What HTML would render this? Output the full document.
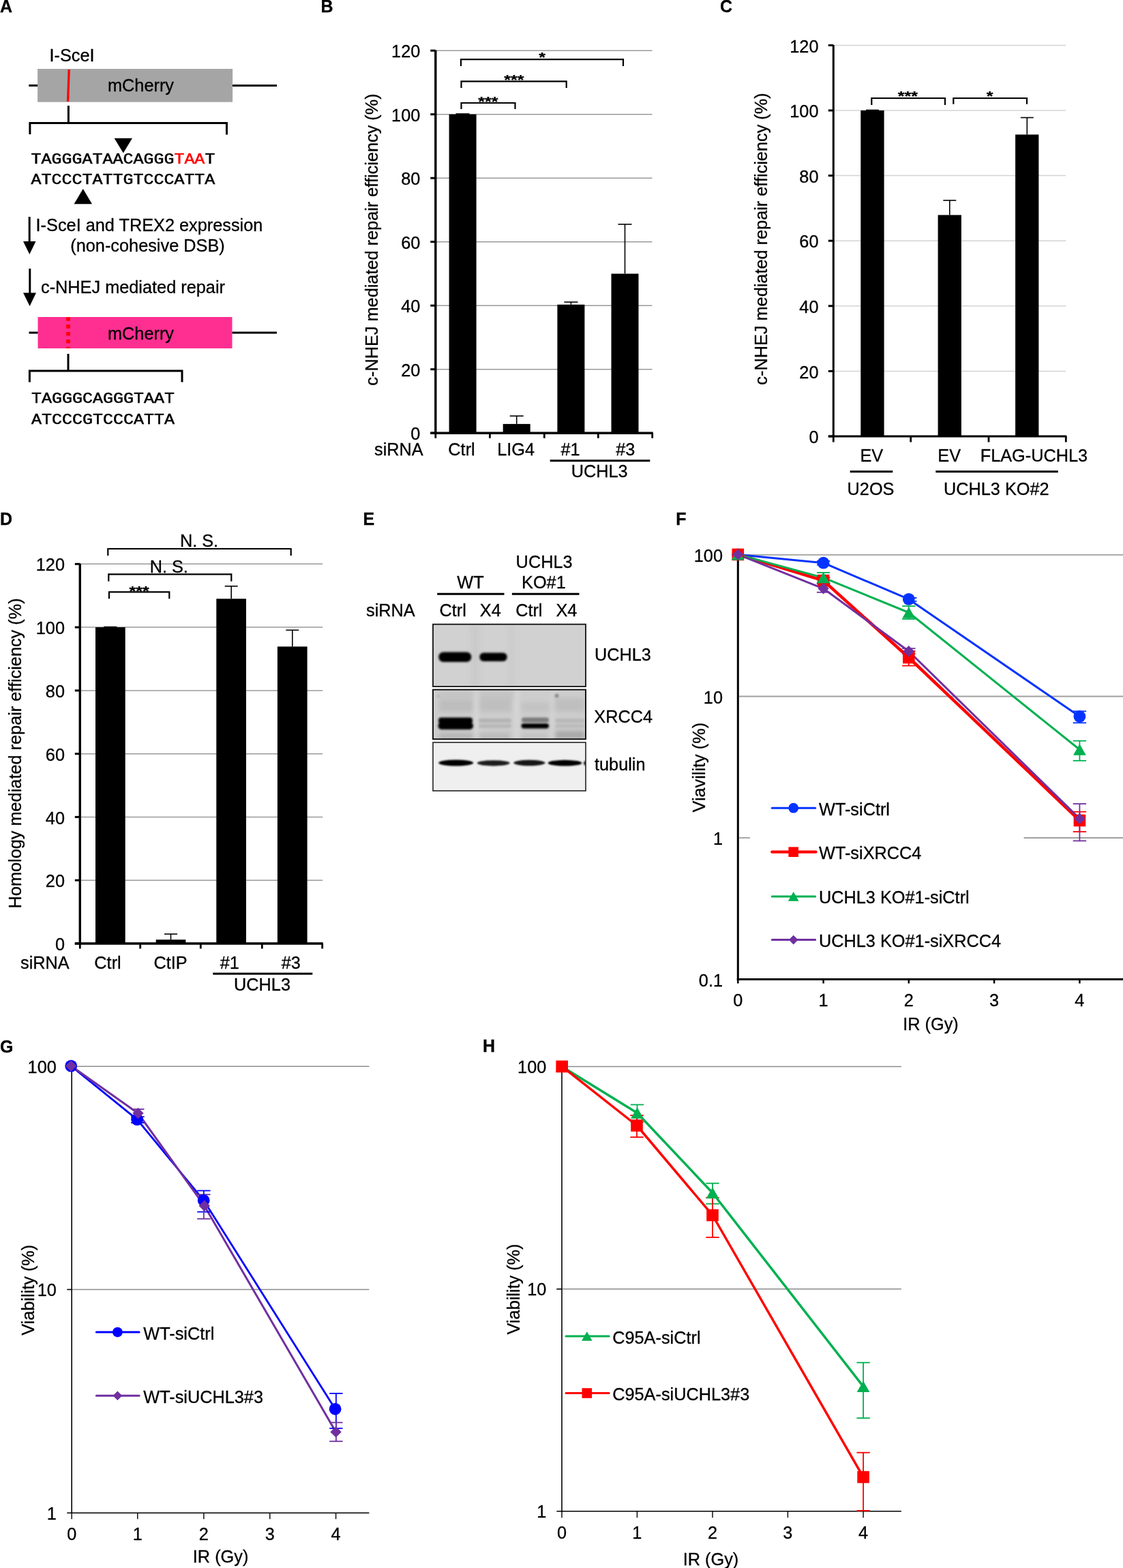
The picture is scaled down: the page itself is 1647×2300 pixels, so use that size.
<!DOCTYPE html>
<html><head><meta charset="utf-8"><title>Figure</title>
<style>html,body{margin:0;padding:0;background:#fff;}svg{display:block;}text:not(.m){stroke:#000;stroke-width:0.3px;}</style></head>
<body>
<svg width="1647" height="2300" viewBox="0 0 1647 2300" font-family="'Liberation Sans', Arial, sans-serif" font-size="25.3">
<rect width="1647" height="2300" fill="#fff"/>
<text x="0.0" y="18.2" font-weight="bold" font-size="25">A</text>
<text x="470.6" y="18.3" font-weight="bold" font-size="25">B</text>
<text x="1056.0" y="18.3" font-weight="bold" font-size="25">C</text>
<text x="0.0" y="770.0" font-weight="bold" font-size="25">D</text>
<text x="532.4" y="770.3" font-weight="bold" font-size="25">E</text>
<text x="991.3" y="770.0" font-weight="bold" font-size="25">F</text>
<text x="0.0" y="1543.8" font-weight="bold" font-size="25">G</text>
<text x="708.1" y="1543.3" font-weight="bold" font-size="25">H</text>
<rect x="55.1" y="101.0" width="286.0" height="48.7" fill="#a5a5a5"/>
<line x1="42.3" y1="125.4" x2="55.1" y2="125.4" stroke="#000" stroke-width="3"/>
<line x1="341.0" y1="125.4" x2="406.0" y2="125.4" stroke="#000" stroke-width="3"/>
<line x1="101.2" y1="102.0" x2="99.6" y2="149.0" stroke="#ff0000" stroke-width="3.3"/>
<text x="72.5" y="90.0">I-SceI</text>
<text x="206.5" y="134.4" text-anchor="middle">mCherry</text>
<line x1="100.4" y1="155.0" x2="100.4" y2="180.4" stroke="#000" stroke-width="3"/>
<path d="M43.9,197 V180.4 H332.5 V197.5" stroke="#000" stroke-width="3" fill="none"/>
<polygon points="167.6,202.8 194.0,202.8 180.8,224.4" fill="#000"/>
<text class="m" transform="translate(45.5,239.8) scale(1,0.9)" font-family="'Liberation Mono', 'Courier New', monospace" font-size="25" stroke="currentColor" stroke-width="0.6">TAGGGATAACAGGG<tspan fill="#ff0000" stroke="#ff0000">TAA</tspan>T</text>
<text class="m" transform="translate(45.5,269.8) scale(1,0.9)" font-family="'Liberation Mono', 'Courier New', monospace" font-size="25" stroke="currentColor" stroke-width="0.6">ATCCCTATTGTCCCATTA</text>
<polygon points="108.6,299.2 135.0,299.2 121.8,277.0" fill="#000"/>
<line x1="43.2" y1="318.0" x2="43.2" y2="357.0" stroke="#000" stroke-width="3"/>
<polygon points="34.0,354.0 52.5,354.0 43.3,373.0" fill="#000"/>
<text x="52.6" y="339.0">I-SceI and TREX2 expression</text>
<text x="216.5" y="368.8" text-anchor="middle">(non-cohesive DSB)</text>
<line x1="43.8" y1="394.0" x2="43.8" y2="432.0" stroke="#000" stroke-width="3"/>
<polygon points="34.0,429.5 53.0,429.5 43.6,449.0" fill="#000"/>
<text x="60.0" y="430.0">c-NHEJ mediated repair</text>
<rect x="55.5" y="465.0" width="285.0" height="46.0" fill="#ff2f92"/>
<line x1="42.5" y1="488.0" x2="55.5" y2="488.0" stroke="#000" stroke-width="3"/>
<line x1="340.5" y1="488.0" x2="406.0" y2="488.0" stroke="#000" stroke-width="3"/>
<line x1="100.0" y1="465.2" x2="100.0" y2="511.0" stroke="#ff0000" stroke-width="5.7" stroke-dasharray="5.6 5.3"/>
<text x="206.5" y="497.5" text-anchor="middle">mCherry</text>
<line x1="100.0" y1="519.0" x2="100.0" y2="544.0" stroke="#000" stroke-width="3"/>
<path d="M43.4,560.5 V544 H267 V560.5" stroke="#000" stroke-width="3" fill="none"/>
<text class="m" transform="translate(46,591) scale(1,0.9)" font-family="'Liberation Mono', 'Courier New', monospace" font-size="25" stroke="currentColor" stroke-width="0.6">TAGGGCAGGGTAAT</text>
<text class="m" transform="translate(46,622) scale(1,0.9)" font-family="'Liberation Mono', 'Courier New', monospace" font-size="25" stroke="currentColor" stroke-width="0.6">ATCCCGTCCCATTA</text>
<line x1="638.8" y1="541.7" x2="956.5" y2="541.7" stroke="#9a9a9a" stroke-width="1.5"/>
<line x1="638.8" y1="448.2" x2="956.5" y2="448.2" stroke="#9a9a9a" stroke-width="1.5"/>
<line x1="638.8" y1="354.7" x2="956.5" y2="354.7" stroke="#9a9a9a" stroke-width="1.5"/>
<line x1="638.8" y1="261.2" x2="956.5" y2="261.2" stroke="#9a9a9a" stroke-width="1.5"/>
<line x1="638.8" y1="167.7" x2="956.5" y2="167.7" stroke="#9a9a9a" stroke-width="1.5"/>
<line x1="638.8" y1="74.2" x2="956.5" y2="74.2" stroke="#9a9a9a" stroke-width="1.5"/>
<line x1="638.8" y1="73.7" x2="638.8" y2="636.7" stroke="#000" stroke-width="3.4"/>
<line x1="631.3" y1="635.2" x2="638.8" y2="635.2" stroke="#000" stroke-width="3"/>
<text x="616.3" y="645.3" text-anchor="end">0</text>
<line x1="631.3" y1="541.7" x2="638.8" y2="541.7" stroke="#000" stroke-width="3"/>
<text x="616.3" y="551.8" text-anchor="end">20</text>
<line x1="631.3" y1="448.2" x2="638.8" y2="448.2" stroke="#000" stroke-width="3"/>
<text x="616.3" y="458.3" text-anchor="end">40</text>
<line x1="631.3" y1="354.7" x2="638.8" y2="354.7" stroke="#000" stroke-width="3"/>
<text x="616.3" y="364.8" text-anchor="end">60</text>
<line x1="631.3" y1="261.2" x2="638.8" y2="261.2" stroke="#000" stroke-width="3"/>
<text x="616.3" y="271.3" text-anchor="end">80</text>
<line x1="631.3" y1="167.7" x2="638.8" y2="167.7" stroke="#000" stroke-width="3"/>
<text x="616.3" y="177.8" text-anchor="end">100</text>
<line x1="631.3" y1="74.2" x2="638.8" y2="74.2" stroke="#000" stroke-width="3"/>
<text x="616.3" y="84.3" text-anchor="end">120</text>
<rect x="658.6" y="167.7" width="40.0" height="467.5" fill="#000"/>
<line x1="678.6" y1="167.7" x2="678.6" y2="167.0" stroke="#000" stroke-width="1.6"/>
<line x1="668.6" y1="167.0" x2="688.6" y2="167.0" stroke="#000" stroke-width="1.6"/>
<rect x="737.7" y="621.9" width="40.0" height="13.3" fill="#000"/>
<line x1="757.7" y1="621.9" x2="757.7" y2="610.2" stroke="#000" stroke-width="1.6"/>
<line x1="747.7" y1="610.2" x2="767.7" y2="610.2" stroke="#000" stroke-width="1.6"/>
<rect x="817.4" y="446.8" width="40.0" height="188.4" fill="#000"/>
<line x1="837.4" y1="446.8" x2="837.4" y2="443.1" stroke="#000" stroke-width="1.6"/>
<line x1="827.4" y1="443.1" x2="847.4" y2="443.1" stroke="#000" stroke-width="1.6"/>
<rect x="896.5" y="401.5" width="40.0" height="233.8" fill="#000"/>
<line x1="916.5" y1="401.5" x2="916.5" y2="329.0" stroke="#000" stroke-width="1.6"/>
<line x1="906.5" y1="329.0" x2="926.5" y2="329.0" stroke="#000" stroke-width="1.6"/>
<line x1="631.3" y1="635.2" x2="957.7" y2="635.2" stroke="#000" stroke-width="3.4"/>
<line x1="638.8" y1="635.2" x2="638.8" y2="642.7" stroke="#000" stroke-width="2.8"/>
<line x1="718.4" y1="635.2" x2="718.4" y2="642.7" stroke="#000" stroke-width="2.8"/>
<line x1="798.3" y1="635.2" x2="798.3" y2="642.7" stroke="#000" stroke-width="2.8"/>
<line x1="877.3" y1="635.2" x2="877.3" y2="642.7" stroke="#000" stroke-width="2.8"/>
<line x1="956.7" y1="635.2" x2="956.7" y2="642.7" stroke="#000" stroke-width="2.8"/>
<path d="M676.5,160 V151 H755.5 V160" stroke="#000" stroke-width="2.2" fill="none"/>
<path d="M676.5,129 V119.3 H830.7 V129" stroke="#000" stroke-width="2.2" fill="none"/>
<path d="M676,97 V87.2 H914 V97" stroke="#000" stroke-width="2.2" fill="none"/>
<text transform="translate(715.9,155.9) scale(1,0.8)" text-anchor="middle" font-weight="bold" font-size="25">***</text>
<text transform="translate(753.9,123.5) scale(1,0.8)" text-anchor="middle" font-weight="bold" font-size="25">***</text>
<text transform="translate(795.0,91.4) scale(1,0.8)" text-anchor="middle" font-weight="bold" font-size="25">*</text>
<text x="549.0" y="667.7">siRNA</text>
<text x="677.0" y="667.7" text-anchor="middle">Ctrl</text>
<text x="756.7" y="667.7" text-anchor="middle">LIG4</text>
<text x="836.5" y="667.7" text-anchor="middle">#1</text>
<text x="917.3" y="667.7" text-anchor="middle">#3</text>
<line x1="806.7" y1="675.7" x2="953.3" y2="675.7" stroke="#000" stroke-width="3"/>
<text x="879.2" y="700.0" text-anchor="middle">UCHL3</text>
<text transform="translate(553.5,351.5) rotate(-90)" text-anchor="middle">c-NHEJ mediated repair efficiency (%)</text>
<line x1="1222.3" y1="544.4" x2="1563.3" y2="544.4" stroke="#d4d4d4" stroke-width="1.5"/>
<line x1="1222.3" y1="448.8" x2="1563.3" y2="448.8" stroke="#d4d4d4" stroke-width="1.5"/>
<line x1="1222.3" y1="353.2" x2="1563.3" y2="353.2" stroke="#d4d4d4" stroke-width="1.5"/>
<line x1="1222.3" y1="257.6" x2="1563.3" y2="257.6" stroke="#d4d4d4" stroke-width="1.5"/>
<line x1="1222.3" y1="162.0" x2="1563.3" y2="162.0" stroke="#d4d4d4" stroke-width="1.5"/>
<line x1="1222.3" y1="66.4" x2="1563.3" y2="66.4" stroke="#d4d4d4" stroke-width="1.5"/>
<line x1="1222.3" y1="65.9" x2="1222.3" y2="641.5" stroke="#000" stroke-width="3"/>
<line x1="1214.8" y1="640.0" x2="1222.3" y2="640.0" stroke="#000" stroke-width="3"/>
<text x="1200.5" y="650.1" text-anchor="end">0</text>
<line x1="1214.8" y1="544.4" x2="1222.3" y2="544.4" stroke="#000" stroke-width="3"/>
<text x="1200.5" y="554.5" text-anchor="end">20</text>
<line x1="1214.8" y1="448.8" x2="1222.3" y2="448.8" stroke="#000" stroke-width="3"/>
<text x="1200.5" y="458.9" text-anchor="end">40</text>
<line x1="1214.8" y1="353.2" x2="1222.3" y2="353.2" stroke="#000" stroke-width="3"/>
<text x="1200.5" y="363.3" text-anchor="end">60</text>
<line x1="1214.8" y1="257.6" x2="1222.3" y2="257.6" stroke="#000" stroke-width="3"/>
<text x="1200.5" y="267.7" text-anchor="end">80</text>
<line x1="1214.8" y1="162.0" x2="1222.3" y2="162.0" stroke="#000" stroke-width="3"/>
<text x="1200.5" y="172.1" text-anchor="end">100</text>
<line x1="1214.8" y1="66.4" x2="1222.3" y2="66.4" stroke="#000" stroke-width="3"/>
<text x="1200.5" y="76.5" text-anchor="end">120</text>
<rect x="1262.3" y="162.0" width="34.3" height="478.0" fill="#000"/>
<line x1="1279.5" y1="162.0" x2="1279.5" y2="161.5" stroke="#000" stroke-width="1.6"/>
<line x1="1270.0" y1="161.5" x2="1289.0" y2="161.5" stroke="#000" stroke-width="1.6"/>
<rect x="1375.6" y="315.4" width="34.3" height="324.6" fill="#000"/>
<line x1="1392.8" y1="315.4" x2="1392.8" y2="293.9" stroke="#000" stroke-width="1.6"/>
<line x1="1383.3" y1="293.9" x2="1402.3" y2="293.9" stroke="#000" stroke-width="1.6"/>
<rect x="1489.1" y="197.4" width="34.3" height="442.6" fill="#000"/>
<line x1="1506.3" y1="197.4" x2="1506.3" y2="172.5" stroke="#000" stroke-width="1.6"/>
<line x1="1496.8" y1="172.5" x2="1515.8" y2="172.5" stroke="#000" stroke-width="1.6"/>
<line x1="1214.8" y1="640.0" x2="1564.3" y2="640.0" stroke="#000" stroke-width="3"/>
<line x1="1222.3" y1="640.0" x2="1222.3" y2="648.5" stroke="#000" stroke-width="2.8"/>
<line x1="1335.7" y1="640.0" x2="1335.7" y2="648.5" stroke="#000" stroke-width="2.8"/>
<line x1="1450.0" y1="640.0" x2="1450.0" y2="648.5" stroke="#000" stroke-width="2.8"/>
<line x1="1563.3" y1="640.0" x2="1563.3" y2="648.5" stroke="#000" stroke-width="2.8"/>
<path d="M1278.3,154 V144 H1386 V154" stroke="#000" stroke-width="2.2" fill="none"/>
<path d="M1398.3,152.7 V144 H1506 V152.7" stroke="#000" stroke-width="2.2" fill="none"/>
<text transform="translate(1331.3,147.5) scale(1,0.8)" text-anchor="middle" font-weight="bold" font-size="25">***</text>
<text transform="translate(1451.5,147.6) scale(1,0.8)" text-anchor="middle" font-weight="bold" font-size="25">*</text>
<text x="1278.3" y="676.7" text-anchor="middle">EV</text>
<text x="1392.2" y="676.7" text-anchor="middle">EV</text>
<text x="1437.7" y="676.7">FLAG-UCHL3</text>
<line x1="1246.7" y1="691.7" x2="1309.3" y2="691.7" stroke="#000" stroke-width="3"/>
<line x1="1372.3" y1="691.7" x2="1551.7" y2="691.7" stroke="#000" stroke-width="3"/>
<text x="1277.0" y="725.7" text-anchor="middle">U2OS</text>
<text x="1461.3" y="725.7" text-anchor="middle">UCHL3 KO#2</text>
<text transform="translate(1125.1,350.5) rotate(-90)" text-anchor="middle">c-NHEJ mediated repair efficiency (%)</text>
<line x1="117.3" y1="1291.2" x2="473.3" y2="1291.2" stroke="#9a9a9a" stroke-width="1.5"/>
<line x1="117.3" y1="1198.4" x2="473.3" y2="1198.4" stroke="#9a9a9a" stroke-width="1.5"/>
<line x1="117.3" y1="1105.7" x2="473.3" y2="1105.7" stroke="#9a9a9a" stroke-width="1.5"/>
<line x1="117.3" y1="1012.9" x2="473.3" y2="1012.9" stroke="#9a9a9a" stroke-width="1.5"/>
<line x1="117.3" y1="920.1" x2="473.3" y2="920.1" stroke="#9a9a9a" stroke-width="1.5"/>
<line x1="117.3" y1="827.3" x2="473.3" y2="827.3" stroke="#9a9a9a" stroke-width="1.5"/>
<line x1="117.3" y1="826.8" x2="117.3" y2="1385.5" stroke="#000" stroke-width="3.4"/>
<line x1="109.8" y1="1384.0" x2="117.3" y2="1384.0" stroke="#000" stroke-width="3"/>
<text x="95.0" y="1394.1" text-anchor="end">0</text>
<line x1="109.8" y1="1291.2" x2="117.3" y2="1291.2" stroke="#000" stroke-width="3"/>
<text x="95.0" y="1301.3" text-anchor="end">20</text>
<line x1="109.8" y1="1198.4" x2="117.3" y2="1198.4" stroke="#000" stroke-width="3"/>
<text x="95.0" y="1208.5" text-anchor="end">40</text>
<line x1="109.8" y1="1105.7" x2="117.3" y2="1105.7" stroke="#000" stroke-width="3"/>
<text x="95.0" y="1115.8" text-anchor="end">60</text>
<line x1="109.8" y1="1012.9" x2="117.3" y2="1012.9" stroke="#000" stroke-width="3"/>
<text x="95.0" y="1023.0" text-anchor="end">80</text>
<line x1="109.8" y1="920.1" x2="117.3" y2="920.1" stroke="#000" stroke-width="3"/>
<text x="95.0" y="930.2" text-anchor="end">100</text>
<line x1="109.8" y1="827.3" x2="117.3" y2="827.3" stroke="#000" stroke-width="3"/>
<text x="95.0" y="837.4" text-anchor="end">120</text>
<rect x="140.0" y="920.1" width="43.7" height="463.9" fill="#000"/>
<line x1="161.8" y1="920.1" x2="161.8" y2="919.6" stroke="#000" stroke-width="1.6"/>
<line x1="152.3" y1="919.6" x2="171.3" y2="919.6" stroke="#000" stroke-width="1.6"/>
<rect x="228.7" y="1378.3" width="43.7" height="5.7" fill="#000"/>
<line x1="250.5" y1="1378.3" x2="250.5" y2="1370.1" stroke="#000" stroke-width="1.6"/>
<line x1="241.0" y1="1370.1" x2="260.0" y2="1370.1" stroke="#000" stroke-width="1.6"/>
<rect x="317.3" y="878.3" width="43.7" height="505.7" fill="#000"/>
<line x1="339.2" y1="878.3" x2="339.2" y2="859.8" stroke="#000" stroke-width="1.6"/>
<line x1="329.7" y1="859.8" x2="348.7" y2="859.8" stroke="#000" stroke-width="1.6"/>
<rect x="406.9" y="948.4" width="43.7" height="435.6" fill="#000"/>
<line x1="428.8" y1="948.4" x2="428.8" y2="924.3" stroke="#000" stroke-width="1.6"/>
<line x1="419.3" y1="924.3" x2="438.3" y2="924.3" stroke="#000" stroke-width="1.6"/>
<line x1="109.8" y1="1384.0" x2="473.7" y2="1384.0" stroke="#000" stroke-width="3.4"/>
<line x1="117.3" y1="1384.0" x2="117.3" y2="1391.5" stroke="#000" stroke-width="2.8"/>
<line x1="205.7" y1="1384.0" x2="205.7" y2="1391.5" stroke="#000" stroke-width="2.8"/>
<line x1="294.3" y1="1384.0" x2="294.3" y2="1391.5" stroke="#000" stroke-width="2.8"/>
<line x1="384.3" y1="1384.0" x2="384.3" y2="1391.5" stroke="#000" stroke-width="2.8"/>
<line x1="472.7" y1="1384.0" x2="472.7" y2="1391.5" stroke="#000" stroke-width="2.8"/>
<path d="M160,878.3 V868.3 H248.3 V878.3" stroke="#000" stroke-width="2.2" fill="none"/>
<path d="M159.3,852.7 V842.3 H339.3 V852.7" stroke="#000" stroke-width="2.2" fill="none"/>
<path d="M158.3,815 V805 H426.7 V815" stroke="#000" stroke-width="2.2" fill="none"/>
<text transform="translate(204.2,873.7) scale(1,0.8)" text-anchor="middle" font-weight="bold" font-size="25">***</text>
<text x="292.0" y="802.3" text-anchor="middle">N. S.</text>
<text x="247.8" y="840.0" text-anchor="middle">N. S.</text>
<text x="30.0" y="1421.0">siRNA</text>
<text x="158.0" y="1421.0" text-anchor="middle">Ctrl</text>
<text x="250.0" y="1421.0" text-anchor="middle">CtIP</text>
<text x="336.7" y="1421.0" text-anchor="middle">#1</text>
<text x="426.7" y="1421.0" text-anchor="middle">#3</text>
<line x1="312.3" y1="1428.3" x2="458.3" y2="1428.3" stroke="#000" stroke-width="3"/>
<text x="384.5" y="1453.3" text-anchor="middle">UCHL3</text>
<text transform="translate(30.9,1104.9) rotate(-90)" text-anchor="middle">Homology mediated repair efficiency (%)</text>
<defs><filter id="bl" x="-30%" y="-80%" width="160%" height="260%"><feGaussianBlur stdDeviation="1.5"/></filter><filter id="bl2" x="-30%" y="-80%" width="160%" height="260%"><feGaussianBlur stdDeviation="3"/></filter><filter id="bl3" x="-30%" y="-80%" width="160%" height="260%"><feGaussianBlur stdDeviation="1.1"/></filter><clipPath id="cb1"><rect x="635" y="915.7" width="224" height="91.3"/></clipPath><clipPath id="cb2"><rect x="635" y="1011.6" width="224" height="72.6"/></clipPath><clipPath id="cb3"><rect x="635" y="1089" width="224" height="71"/></clipPath></defs>
<rect x="635.0" y="915.7" width="224.0" height="91.3" fill="#d1d1d1"/>
<g clip-path="url(#cb1)"><g filter="url(#bl2)" opacity="0.5"><rect x="690" y="915" width="14" height="92" fill="#c4c4c4"/><rect x="745" y="915" width="10" height="92" fill="#c8c8c8"/></g></g>
<g filter="url(#bl)"><rect x="643.3" y="956.5" width="48" height="14.5" rx="7" fill="#000"/><rect x="703.3" y="957.5" width="40.4" height="12.5" rx="6" fill="#000"/></g>
<rect x="635.0" y="915.7" width="224.0" height="91.3" fill="none" stroke="#111" stroke-width="1.8"/>
<rect x="635.0" y="1011.6" width="224.0" height="72.6" fill="#cdcdcd"/>
<g clip-path="url(#cb2)"><g filter="url(#bl2)"><rect x="644" y="1026" width="50" height="18" fill="#bdbdbd"/><rect x="702" y="1024" width="48" height="20" fill="#bfbfbf"/><rect x="764" y="1030" width="42" height="14" fill="#c2c2c2"/><rect x="812" y="1024" width="46" height="20" fill="#bfbfbf"/><rect x="644" y="1075" width="50" height="10" fill="#b6b6b6"/><rect x="702" y="1075" width="46" height="10" fill="#bababa"/><rect x="764" y="1076" width="40" height="9" fill="#c2c2c2"/><rect x="814" y="1072" width="44" height="12" fill="#a9a9a9"/><rect x="644" y="1014" width="110" height="10" fill="#c4c4c4"/><rect x="696" y="1012" width="6" height="72" fill="#d8d8d8"/><rect x="755" y="1012" width="6" height="72" fill="#d8d8d8"/><rect x="808" y="1012" width="5" height="72" fill="#d4d4d4"/></g><g filter="url(#bl)"><circle cx="816.5" cy="1020.5" r="2.6" fill="#7a7a7a"/><circle cx="643" cy="1021" r="1.5" fill="#9a9a9a"/></g></g>
<g filter="url(#bl)"><rect x="643" y="1052.5" width="50" height="9" rx="4" fill="#050505"/><rect x="642.5" y="1059.5" width="51.5" height="10.5" rx="5" fill="#000"/><rect x="702" y="1054" width="48" height="6" rx="3" fill="#b3b3b3"/><rect x="702" y="1062" width="48" height="6" rx="3" fill="#b8b8b8"/><rect x="765" y="1052.5" width="40" height="7" rx="3.5" fill="#7a7a7a"/><rect x="764.5" y="1061" width="40.5" height="7.5" rx="3.7" fill="#000"/><rect x="814" y="1054" width="44" height="6" rx="3" fill="#b8b8b8"/><rect x="814" y="1062" width="44" height="6" rx="3" fill="#bbbbbb"/></g>
<rect x="635.0" y="1011.6" width="224.0" height="72.6" fill="none" stroke="#0a0a0a" stroke-width="1.9"/>
<rect x="635.0" y="1089.0" width="224.0" height="71.0" fill="#efefef"/>
<g clip-path="url(#cb3)"><g filter="url(#bl3)"><ellipse cx="668.7" cy="1119" rx="25.5" ry="4.6" fill="#000"/><ellipse cx="723.7" cy="1119.3" rx="24" ry="4.1" fill="#1c1c1c"/><ellipse cx="776.4" cy="1119" rx="23.2" ry="4.2" fill="#141414"/><ellipse cx="828.5" cy="1119.2" rx="25" ry="4.4" fill="#050505"/><ellipse cx="860" cy="1119.5" rx="4" ry="3.5" fill="#222"/></g></g>
<rect x="635.0" y="1089.0" width="224.0" height="71.0" fill="none" stroke="#222" stroke-width="1.6"/>
<text x="798.1" y="832.6" text-anchor="middle">UCHL3</text>
<text x="797.4" y="863.2" text-anchor="middle">KO#1</text>
<text x="690.0" y="863.2" text-anchor="middle">WT</text>
<line x1="641.2" y1="871.2" x2="739.5" y2="871.2" stroke="#000" stroke-width="3"/>
<line x1="750.9" y1="871.2" x2="849.5" y2="871.2" stroke="#000" stroke-width="3"/>
<text x="537.0" y="903.5">siRNA</text>
<text x="664.2" y="903.5" text-anchor="middle">Ctrl</text>
<text x="719.3" y="903.5" text-anchor="middle">X4</text>
<text x="775.8" y="903.5" text-anchor="middle">Ctrl</text>
<text x="830.9" y="903.5" text-anchor="middle">X4</text>
<text x="872.0" y="968.9">UCHL3</text>
<text x="871.3" y="1059.5">XRCC4</text>
<text x="872.0" y="1129.5">tubulin</text>
<line x1="1084.0" y1="813.8" x2="1647.0" y2="813.8" stroke="#a0a0a0" stroke-width="1.8"/>
<line x1="1084.0" y1="1021.5" x2="1647.0" y2="1021.5" stroke="#a0a0a0" stroke-width="1.8"/>
<line x1="1084.0" y1="1229.0" x2="1100.0" y2="1229.0" stroke="#a0a0a0" stroke-width="1.8"/>
<line x1="1501.6" y1="1229.0" x2="1647.0" y2="1229.0" stroke="#a0a0a0" stroke-width="1.8"/>
<line x1="1082.3" y1="812.0" x2="1082.3" y2="1438.0" stroke="#000" stroke-width="3"/>
<line x1="1080.8" y1="1436.5" x2="1647.0" y2="1436.5" stroke="#000" stroke-width="3"/>
<line x1="1082.3" y1="1436.5" x2="1082.3" y2="1442.5" stroke="#000" stroke-width="2.5"/>
<text x="1082.3" y="1475.5" text-anchor="middle">0</text>
<line x1="1207.6" y1="1436.5" x2="1207.6" y2="1442.5" stroke="#000" stroke-width="2.5"/>
<text x="1207.6" y="1475.5" text-anchor="middle">1</text>
<line x1="1332.8" y1="1436.5" x2="1332.8" y2="1442.5" stroke="#000" stroke-width="2.5"/>
<text x="1332.8" y="1475.5" text-anchor="middle">2</text>
<line x1="1458.1" y1="1436.5" x2="1458.1" y2="1442.5" stroke="#000" stroke-width="2.5"/>
<text x="1458.1" y="1475.5" text-anchor="middle">3</text>
<line x1="1583.4" y1="1436.5" x2="1583.4" y2="1442.5" stroke="#000" stroke-width="2.5"/>
<text x="1583.4" y="1475.5" text-anchor="middle">4</text>
<text x="1060.0" y="823.8" text-anchor="end">100</text>
<text x="1060.0" y="1031.5" text-anchor="end">10</text>
<text x="1060.0" y="1239.0" text-anchor="end">1</text>
<text x="1060.0" y="1446.5" text-anchor="end">0.1</text>
<text x="1365.0" y="1511.2" text-anchor="middle">IR (Gy)</text>
<text transform="translate(1033.9,1125.7) rotate(-90)" text-anchor="middle">Viavility (%)</text>
<path d="M1082.3,813.4 L1207.6,825.7 L1332.8,878.9 L1583.4,1051.0" stroke="#0433ff" stroke-width="3" fill="none" stroke-linejoin="round"/>
<path d="M1082.3,813.4 L1207.6,851.6 L1332.8,964.5 L1583.4,1203.5" stroke="#ff0000" stroke-width="4.5" fill="none" stroke-linejoin="round"/>
<path d="M1082.3,813.4 L1207.6,847.4 L1332.8,898.5 L1583.4,1099.5" stroke="#00b050" stroke-width="3" fill="none" stroke-linejoin="round"/>
<path d="M1082.3,813.4 L1207.6,863.3 L1332.8,955.3 L1583.4,1200.9" stroke="#7030a0" stroke-width="3" fill="none" stroke-linejoin="round"/>
<line x1="1207.6" y1="823.0" x2="1207.6" y2="828.5" stroke="#0433ff" stroke-width="1.8"/>
<line x1="1197.9" y1="823.0" x2="1217.3" y2="823.0" stroke="#0433ff" stroke-width="1.8"/>
<line x1="1197.9" y1="828.5" x2="1217.3" y2="828.5" stroke="#0433ff" stroke-width="1.8"/>
<line x1="1334.8" y1="877.0" x2="1334.8" y2="882.0" stroke="#0433ff" stroke-width="1.8"/>
<line x1="1325.1" y1="877.0" x2="1344.5" y2="877.0" stroke="#0433ff" stroke-width="1.8"/>
<line x1="1325.1" y1="882.0" x2="1344.5" y2="882.0" stroke="#0433ff" stroke-width="1.8"/>
<line x1="1583.4" y1="1043.3" x2="1583.4" y2="1060.3" stroke="#0433ff" stroke-width="1.8"/>
<line x1="1573.7" y1="1043.3" x2="1593.1" y2="1043.3" stroke="#0433ff" stroke-width="1.8"/>
<line x1="1573.7" y1="1060.3" x2="1593.1" y2="1060.3" stroke="#0433ff" stroke-width="1.8"/>
<line x1="1207.6" y1="847.0" x2="1207.6" y2="856.0" stroke="#ff0000" stroke-width="1.8"/>
<line x1="1197.9" y1="847.0" x2="1217.3" y2="847.0" stroke="#ff0000" stroke-width="1.8"/>
<line x1="1197.9" y1="856.0" x2="1217.3" y2="856.0" stroke="#ff0000" stroke-width="1.8"/>
<line x1="1332.8" y1="955.0" x2="1332.8" y2="976.5" stroke="#ff0000" stroke-width="1.8"/>
<line x1="1323.1" y1="955.0" x2="1342.5" y2="955.0" stroke="#ff0000" stroke-width="1.8"/>
<line x1="1323.1" y1="976.5" x2="1342.5" y2="976.5" stroke="#ff0000" stroke-width="1.8"/>
<line x1="1583.4" y1="1190.7" x2="1583.4" y2="1220.0" stroke="#ff0000" stroke-width="1.8"/>
<line x1="1573.7" y1="1190.7" x2="1593.1" y2="1190.7" stroke="#ff0000" stroke-width="1.8"/>
<line x1="1573.7" y1="1220.0" x2="1593.1" y2="1220.0" stroke="#ff0000" stroke-width="1.8"/>
<line x1="1207.6" y1="839.9" x2="1207.6" y2="855.0" stroke="#00b050" stroke-width="1.8"/>
<line x1="1197.9" y1="839.9" x2="1217.3" y2="839.9" stroke="#00b050" stroke-width="1.8"/>
<line x1="1197.9" y1="855.0" x2="1217.3" y2="855.0" stroke="#00b050" stroke-width="1.8"/>
<line x1="1332.8" y1="889.0" x2="1332.8" y2="908.0" stroke="#00b050" stroke-width="1.8"/>
<line x1="1323.1" y1="889.0" x2="1342.5" y2="889.0" stroke="#00b050" stroke-width="1.8"/>
<line x1="1323.1" y1="908.0" x2="1342.5" y2="908.0" stroke="#00b050" stroke-width="1.8"/>
<line x1="1583.4" y1="1086.7" x2="1583.4" y2="1115.8" stroke="#00b050" stroke-width="1.8"/>
<line x1="1573.7" y1="1086.7" x2="1593.1" y2="1086.7" stroke="#00b050" stroke-width="1.8"/>
<line x1="1573.7" y1="1115.8" x2="1593.1" y2="1115.8" stroke="#00b050" stroke-width="1.8"/>
<line x1="1207.6" y1="856.0" x2="1207.6" y2="868.8" stroke="#7030a0" stroke-width="1.8"/>
<line x1="1197.9" y1="856.0" x2="1217.3" y2="856.0" stroke="#7030a0" stroke-width="1.8"/>
<line x1="1197.9" y1="868.8" x2="1217.3" y2="868.8" stroke="#7030a0" stroke-width="1.8"/>
<line x1="1332.8" y1="951.2" x2="1332.8" y2="959.0" stroke="#7030a0" stroke-width="1.8"/>
<line x1="1323.1" y1="951.2" x2="1342.5" y2="951.2" stroke="#7030a0" stroke-width="1.8"/>
<line x1="1323.1" y1="959.0" x2="1342.5" y2="959.0" stroke="#7030a0" stroke-width="1.8"/>
<line x1="1583.4" y1="1179.1" x2="1583.4" y2="1233.4" stroke="#7030a0" stroke-width="1.8"/>
<line x1="1573.7" y1="1179.1" x2="1593.1" y2="1179.1" stroke="#7030a0" stroke-width="1.8"/>
<line x1="1573.7" y1="1233.4" x2="1593.1" y2="1233.4" stroke="#7030a0" stroke-width="1.8"/>
<circle cx="1082.3" cy="813.4" r="8.9" fill="#0433ff"/>
<circle cx="1207.6" cy="825.7" r="8.9" fill="#0433ff"/>
<circle cx="1332.8" cy="878.9" r="8.9" fill="#0433ff"/>
<circle cx="1583.4" cy="1051.0" r="8.9" fill="#0433ff"/>
<rect x="1073.5" y="804.6" width="17.6" height="17.6" fill="#ff0000"/>
<rect x="1198.8" y="842.8" width="17.6" height="17.6" fill="#ff0000"/>
<rect x="1324.0" y="955.7" width="17.6" height="17.6" fill="#ff0000"/>
<rect x="1574.6" y="1194.7" width="17.6" height="17.6" fill="#ff0000"/>
<polygon points="1082.3,805.2 1091.7,821.6 1072.9,821.6" fill="#00b050"/>
<polygon points="1207.6,839.2 1217.0,855.6 1198.2,855.6" fill="#00b050"/>
<polygon points="1332.8,890.3 1342.2,906.7 1323.4,906.7" fill="#00b050"/>
<polygon points="1583.4,1091.3 1592.8,1107.7 1574.0,1107.7" fill="#00b050"/>
<polygon points="1082.3,805.2 1090.5,813.4 1082.3,821.6 1074.1,813.4" fill="#7030a0"/>
<polygon points="1207.6,855.1 1215.8,863.3 1207.6,871.5 1199.4,863.3" fill="#7030a0"/>
<polygon points="1332.8,947.1 1341.0,955.3 1332.8,963.5 1324.6,955.3" fill="#7030a0"/>
<polygon points="1583.4,1192.7 1591.6,1200.9 1583.4,1209.1 1575.2,1200.9" fill="#7030a0"/>
<line x1="1132.3" y1="1185.2" x2="1195.7" y2="1185.2" stroke="#0433ff" stroke-width="3" stroke-linecap="round"/>
<circle cx="1163.7" cy="1185.2" r="7.4" fill="#0433ff"/>
<text x="1201.0" y="1195.7">WT-siCtrl</text>
<line x1="1132.3" y1="1249.7" x2="1196.5" y2="1249.7" stroke="#ff0000" stroke-width="4.3" stroke-linecap="round"/>
<rect x="1156.4" y="1242.4" width="14.6" height="14.6" fill="#ff0000"/>
<text x="1201.0" y="1260.2">WT-siXRCC4</text>
<line x1="1132.3" y1="1314.9" x2="1195.7" y2="1314.9" stroke="#00b050" stroke-width="3" stroke-linecap="round"/>
<polygon points="1163.7,1308.1 1171.5,1321.7 1155.9,1321.7" fill="#00b050"/>
<text x="1201.0" y="1325.4">UCHL3 KO#1-siCtrl</text>
<line x1="1132.3" y1="1378.6" x2="1195.7" y2="1378.6" stroke="#7030a0" stroke-width="3" stroke-linecap="round"/>
<polygon points="1163.7,1371.8 1170.5,1378.6 1163.7,1385.4 1156.9,1378.6" fill="#7030a0"/>
<text x="1201.0" y="1389.1">UCHL3 KO#1-siXRCC4</text>
<line x1="106.0" y1="1564.2" x2="541.4" y2="1564.2" stroke="#8c8c8c" stroke-width="1.4"/>
<line x1="106.0" y1="1891.5" x2="541.4" y2="1891.5" stroke="#8c8c8c" stroke-width="1.4"/>
<line x1="105.2" y1="1563.0" x2="105.2" y2="2220.0" stroke="#000" stroke-width="1.6"/>
<line x1="98.3" y1="2219.2" x2="541.4" y2="2219.2" stroke="#000" stroke-width="1.5"/>
<line x1="98.3" y1="1891.5" x2="105.2" y2="1891.5" stroke="#000" stroke-width="1.6"/>
<line x1="105.2" y1="2219.0" x2="105.2" y2="2228.3" stroke="#000" stroke-width="1.4"/>
<text x="105.2" y="2259.3" text-anchor="middle">0</text>
<line x1="201.8" y1="2219.0" x2="201.8" y2="2228.3" stroke="#000" stroke-width="1.4"/>
<text x="201.8" y="2259.3" text-anchor="middle">1</text>
<line x1="298.9" y1="2219.0" x2="298.9" y2="2228.3" stroke="#000" stroke-width="1.4"/>
<text x="298.9" y="2259.3" text-anchor="middle">2</text>
<line x1="395.8" y1="2219.0" x2="395.8" y2="2228.3" stroke="#000" stroke-width="1.4"/>
<text x="395.8" y="2259.3" text-anchor="middle">3</text>
<line x1="492.6" y1="2219.0" x2="492.6" y2="2228.3" stroke="#000" stroke-width="1.4"/>
<text x="492.6" y="2259.3" text-anchor="middle">4</text>
<text x="82.8" y="1573.7" text-anchor="end">100</text>
<text x="82.8" y="1901.0" text-anchor="end">10</text>
<text x="82.8" y="2228.5" text-anchor="end">1</text>
<text x="323.6" y="2292.0" text-anchor="middle">IR (Gy)</text>
<text transform="translate(49.6,1892.3) rotate(-90)" text-anchor="middle">Viability (%)</text>
<path d="M104.2,1563.6 L201.1,1642.1 L298.7,1760.7 L491.6,2066.8" stroke="#0000ff" stroke-width="2.8" fill="none" stroke-linejoin="round"/>
<path d="M104.2,1563.6 L202.5,1632.9 L299.8,1768.8 L492.6,2100.4" stroke="#7030a0" stroke-width="3" fill="none" stroke-linejoin="round"/>
<line x1="201.8" y1="1638.0" x2="201.8" y2="1646.9" stroke="#0000ff" stroke-width="1.8"/>
<line x1="192.1" y1="1638.0" x2="211.5" y2="1638.0" stroke="#0000ff" stroke-width="1.8"/>
<line x1="192.1" y1="1646.9" x2="211.5" y2="1646.9" stroke="#0000ff" stroke-width="1.8"/>
<line x1="298.9" y1="1746.5" x2="298.9" y2="1777.6" stroke="#0000ff" stroke-width="1.8"/>
<line x1="289.2" y1="1746.5" x2="308.6" y2="1746.5" stroke="#0000ff" stroke-width="1.8"/>
<line x1="289.2" y1="1777.6" x2="308.6" y2="1777.6" stroke="#0000ff" stroke-width="1.8"/>
<line x1="492.9" y1="2043.9" x2="492.9" y2="2095.2" stroke="#0000ff" stroke-width="1.8"/>
<line x1="483.2" y1="2043.9" x2="502.6" y2="2043.9" stroke="#0000ff" stroke-width="1.8"/>
<line x1="483.2" y1="2095.2" x2="502.6" y2="2095.2" stroke="#0000ff" stroke-width="1.8"/>
<line x1="201.8" y1="1627.0" x2="201.8" y2="1638.0" stroke="#7030a0" stroke-width="1.8"/>
<line x1="192.1" y1="1627.0" x2="211.5" y2="1627.0" stroke="#7030a0" stroke-width="1.8"/>
<line x1="192.1" y1="1638.0" x2="211.5" y2="1638.0" stroke="#7030a0" stroke-width="1.8"/>
<line x1="298.9" y1="1752.2" x2="298.9" y2="1787.8" stroke="#7030a0" stroke-width="1.8"/>
<line x1="289.2" y1="1752.2" x2="308.6" y2="1752.2" stroke="#7030a0" stroke-width="1.8"/>
<line x1="289.2" y1="1787.8" x2="308.6" y2="1787.8" stroke="#7030a0" stroke-width="1.8"/>
<line x1="492.9" y1="2086.6" x2="492.9" y2="2114.2" stroke="#7030a0" stroke-width="1.8"/>
<line x1="483.2" y1="2086.6" x2="502.6" y2="2086.6" stroke="#7030a0" stroke-width="1.8"/>
<line x1="483.2" y1="2114.2" x2="502.6" y2="2114.2" stroke="#7030a0" stroke-width="1.8"/>
<circle cx="104.2" cy="1563.6" r="8.9" fill="#0000ff"/>
<circle cx="201.1" cy="1642.1" r="8.9" fill="#0000ff"/>
<circle cx="298.7" cy="1760.7" r="8.9" fill="#0000ff"/>
<circle cx="491.6" cy="2066.8" r="8.9" fill="#0000ff"/>
<polygon points="104.2,1555.4 112.4,1563.6 104.2,1571.8 96.0,1563.6" fill="#7030a0"/>
<polygon points="202.5,1624.7 210.7,1632.9 202.5,1641.1 194.3,1632.9" fill="#7030a0"/>
<polygon points="299.8,1760.6 308.0,1768.8 299.8,1777.0 291.6,1768.8" fill="#7030a0"/>
<polygon points="492.6,2092.2 500.8,2100.4 492.6,2108.6 484.4,2100.4" fill="#7030a0"/>
<line x1="141.4" y1="1954.1" x2="204.1" y2="1954.1" stroke="#0000ff" stroke-width="3" stroke-linecap="round"/>
<circle cx="172.4" cy="1954.1" r="7.4" fill="#0000ff"/>
<text x="210.3" y="1964.6">WT-siCtrl</text>
<line x1="141.4" y1="2047.2" x2="204.1" y2="2047.2" stroke="#7030a0" stroke-width="3" stroke-linecap="round"/>
<polygon points="172.4,2040.4 179.2,2047.2 172.4,2054.0 165.6,2047.2" fill="#7030a0"/>
<text x="210.3" y="2057.7">WT-siUCHL3#3</text>
<line x1="825.0" y1="1564.5" x2="1321.9" y2="1564.5" stroke="#8c8c8c" stroke-width="1.4"/>
<line x1="825.0" y1="1890.8" x2="1321.9" y2="1890.8" stroke="#8c8c8c" stroke-width="1.4"/>
<line x1="824.0" y1="1563.0" x2="824.0" y2="2218.0" stroke="#000" stroke-width="1.6"/>
<line x1="816.3" y1="2216.8" x2="1321.9" y2="2216.8" stroke="#000" stroke-width="1.5"/>
<line x1="816.3" y1="1890.8" x2="824.0" y2="1890.8" stroke="#000" stroke-width="1.6"/>
<line x1="824.0" y1="2216.8" x2="824.0" y2="2226.2" stroke="#000" stroke-width="1.4"/>
<text x="824.0" y="2257.1" text-anchor="middle">0</text>
<line x1="934.4" y1="2216.8" x2="934.4" y2="2226.2" stroke="#000" stroke-width="1.4"/>
<text x="934.4" y="2257.1" text-anchor="middle">1</text>
<line x1="1045.0" y1="2216.8" x2="1045.0" y2="2226.2" stroke="#000" stroke-width="1.4"/>
<text x="1045.0" y="2257.1" text-anchor="middle">2</text>
<line x1="1155.4" y1="2216.8" x2="1155.4" y2="2226.2" stroke="#000" stroke-width="1.4"/>
<text x="1155.4" y="2257.1" text-anchor="middle">3</text>
<line x1="1266.1" y1="2216.8" x2="1266.1" y2="2226.2" stroke="#000" stroke-width="1.4"/>
<text x="1266.1" y="2257.1" text-anchor="middle">4</text>
<text x="801.3" y="1574.0" text-anchor="end">100</text>
<text x="801.3" y="1900.3" text-anchor="end">10</text>
<text x="801.3" y="2226.3" text-anchor="end">1</text>
<text x="1042.5" y="2295.8" text-anchor="middle">IR (Gy)</text>
<text transform="translate(761.9,1891.0) rotate(-90)" text-anchor="middle">Viability (%)</text>
<path d="M824.2,1564.4 L934.5,1632.5 L1045.0,1749.7 L1266.1,2033.8" stroke="#00b050" stroke-width="3.5" fill="none" stroke-linejoin="round"/>
<path d="M824.2,1564.4 L934.0,1651.0 L1045.0,1782.5 L1266.1,2166.6" stroke="#ff0000" stroke-width="3.5" fill="none" stroke-linejoin="round"/>
<line x1="934.5" y1="1620.4" x2="934.5" y2="1646.0" stroke="#00b050" stroke-width="1.8"/>
<line x1="924.8" y1="1620.4" x2="944.2" y2="1620.4" stroke="#00b050" stroke-width="1.8"/>
<line x1="924.8" y1="1646.0" x2="944.2" y2="1646.0" stroke="#00b050" stroke-width="1.8"/>
<line x1="1045.0" y1="1735.7" x2="1045.0" y2="1765.8" stroke="#00b050" stroke-width="1.8"/>
<line x1="1035.3" y1="1735.7" x2="1054.7" y2="1735.7" stroke="#00b050" stroke-width="1.8"/>
<line x1="1035.3" y1="1765.8" x2="1054.7" y2="1765.8" stroke="#00b050" stroke-width="1.8"/>
<line x1="1266.1" y1="1998.7" x2="1266.1" y2="2080.1" stroke="#00b050" stroke-width="1.8"/>
<line x1="1256.4" y1="1998.7" x2="1275.8" y2="1998.7" stroke="#00b050" stroke-width="1.8"/>
<line x1="1256.4" y1="2080.1" x2="1275.8" y2="2080.1" stroke="#00b050" stroke-width="1.8"/>
<line x1="934.0" y1="1636.1" x2="934.0" y2="1668.0" stroke="#ff0000" stroke-width="1.8"/>
<line x1="924.3" y1="1636.1" x2="943.7" y2="1636.1" stroke="#ff0000" stroke-width="1.8"/>
<line x1="924.3" y1="1668.0" x2="943.7" y2="1668.0" stroke="#ff0000" stroke-width="1.8"/>
<line x1="1045.0" y1="1756.9" x2="1045.0" y2="1815.0" stroke="#ff0000" stroke-width="1.8"/>
<line x1="1035.3" y1="1756.9" x2="1054.7" y2="1756.9" stroke="#ff0000" stroke-width="1.8"/>
<line x1="1035.3" y1="1815.0" x2="1054.7" y2="1815.0" stroke="#ff0000" stroke-width="1.8"/>
<line x1="1266.1" y1="2130.7" x2="1266.1" y2="2215.9" stroke="#ff0000" stroke-width="1.8"/>
<line x1="1256.4" y1="2130.7" x2="1275.8" y2="2130.7" stroke="#ff0000" stroke-width="1.8"/>
<line x1="1256.4" y1="2215.9" x2="1275.8" y2="2215.9" stroke="#ff0000" stroke-width="1.8"/>
<polygon points="824.2,1556.2 833.6,1572.6 814.8,1572.6" fill="#00b050"/>
<polygon points="934.5,1624.3 943.9,1640.7 925.1,1640.7" fill="#00b050"/>
<polygon points="1045.0,1741.5 1054.4,1757.9 1035.6,1757.9" fill="#00b050"/>
<polygon points="1266.1,2025.6 1275.5,2042.0 1256.7,2042.0" fill="#00b050"/>
<rect x="815.4" y="1555.6" width="17.6" height="17.6" fill="#ff0000"/>
<rect x="925.2" y="1642.2" width="17.6" height="17.6" fill="#ff0000"/>
<rect x="1036.2" y="1773.7" width="17.6" height="17.6" fill="#ff0000"/>
<rect x="1257.3" y="2157.8" width="17.6" height="17.6" fill="#ff0000"/>
<line x1="830.0" y1="1960.0" x2="893.1" y2="1960.0" stroke="#00b050" stroke-width="3" stroke-linecap="round"/>
<polygon points="860.8,1953.2 868.6,1966.8 853.0,1966.8" fill="#00b050"/>
<text x="898.2" y="1970.5">C95A-siCtrl</text>
<line x1="830.0" y1="2043.5" x2="893.1" y2="2043.5" stroke="#ff0000" stroke-width="3" stroke-linecap="round"/>
<rect x="853.5" y="2036.2" width="14.6" height="14.6" fill="#ff0000"/>
<text x="898.2" y="2054.0">C95A-siUCHL3#3</text>
</svg>
</body></html>
